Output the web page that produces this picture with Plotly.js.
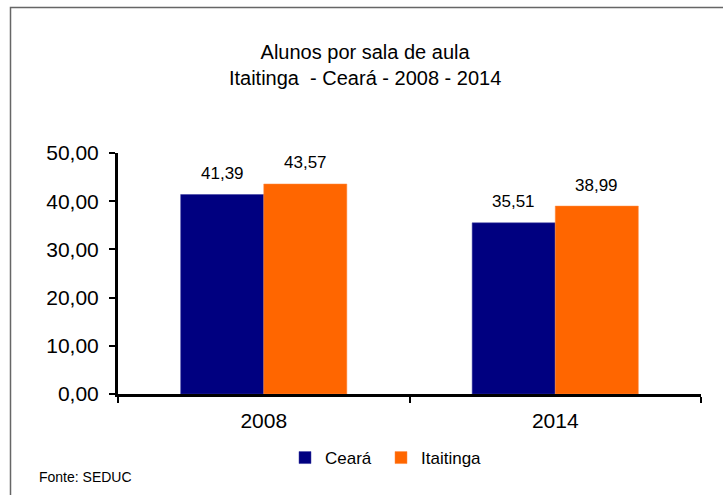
<!DOCTYPE html>
<html>
<head>
<meta charset="utf-8">
<script src="https://cdn.plot.ly/plotly-3.0.1.min.js"></script>
<style>html,body{margin:0;padding:0;background:#fff;}#chart{width:723px;height:495px;}</style>
</head>
<body>
<div id="chart"></div>
<script>
const categories = ["2008", "2014"];
const seriesNames = ["Ceará", "Itaitinga"];
const cearaValues = [41.39, 35.51];
const itaitingaValues = [43.57, 38.99];
const yTicks = [0, 10, 20, 30, 40, 50];

const sans = "'Liberation Sans', Arial, sans-serif";

const traces = [
  {type: "bar", name: seriesNames[0], x: categories, y: cearaValues, legend: "legend",
   marker: {color: "#000080", line: {color: "#3a3aa0", width: 0.5}}},
  {type: "bar", name: seriesNames[1], x: categories, y: itaitingaValues, legend: "legend2",
   marker: {color: "#FF6600", line: {color: "#ff8a40", width: 0.5}}}
];

const L = 118, R = 701, T = 153, B = 394;
const pw = R - L, ph = B - T;
const px = v => (v - L) / pw;
const py = v => (B - v) / ph;

const fmt = v => v.toFixed(2).replace(".", ",");
const valueLabels = [];
[cearaValues, itaitingaValues].forEach((vals, s) => {
  vals.forEach((v, i) => {
    valueLabels.push({
      text: fmt(v), x: i, y: v, xref: "x", yref: "y",
      xshift: s === 0 ? -41.5 : 41.5, yshift: 21,
      xanchor: "center", yanchor: "middle", showarrow: false,
      font: {family: sans, size: 17, color: "#000"}
    });
  });
});

const legendBase = {
  orientation: "h", xanchor: "left", y: py(458), yanchor: "middle",
  font: {family: sans, size: 17, color: "#000"},
  bgcolor: "rgba(0,0,0,0)", itemwidth: 30
};

const layout = {
  width: 723, height: 495,
  margin: {l: L, r: 723 - R, t: T, b: 495 - B, pad: 0},
  paper_bgcolor: "#fff", plot_bgcolor: "#fff",
  separators: ",.",
  barmode: "group", bargap: 0.43, bargroupgap: 0,
  showlegend: true,
  title: {
    text: "Alunos por sala de aula<br>Itaitinga  - Ceará - 2008 - 2014",
    font: {family: sans, size: 20, color: "#000"},
    x: 0.505, xanchor: "center", xref: "container",
    y: 1 - 59/495, yanchor: "middle", yref: "container"
  },
  xaxis: {
    type: "category", range: [-0.5, 1.5], showline: true, linecolor: "#000", linewidth: 3,
    ticks: "outside", tickson: "boundaries", ticklen: 6, tickwidth: 2, tickcolor: "#000",
    tickfont: {family: sans, size: 21, color: "#000"}, ticklabelstandoff: 6,
    showgrid: false, zeroline: false
  },
  yaxis: {
    range: [0, 50], tickvals: yTicks, tickformat: ".2f",
    showline: true, linecolor: "#000", linewidth: 3,
    ticks: "outside", ticklen: 6, tickwidth: 2, tickcolor: "#000",
    tickfont: {family: sans, size: 21, color: "#000"}, ticklabelstandoff: 6,
    showgrid: false, zeroline: false
  },
  legend: Object.assign({}, legendBase, {x: px(285)}),
  legend2: Object.assign({}, legendBase, {x: px(381)}),
  annotations: valueLabels.concat([{
    text: "Fonte: SEDUC", xref: "paper", yref: "paper",
    x: px(37), y: py(477), xanchor: "left", yanchor: "middle",
    showarrow: false, font: {family: sans, size: 14, color: "#000"}
  }]),
  shapes: [{
    type: "rect", xref: "paper", yref: "paper",
    x0: px(10.5), x1: px(760), y0: py(7.5), y1: py(560),
    line: {color: "#666", width: 1.5}, fillcolor: "rgba(0,0,0,0)", layer: "below"
  }]
};

Plotly.newPlot("chart", traces, layout, {displayModeBar: false, staticPlot: true});
</script>
</body>
</html>
